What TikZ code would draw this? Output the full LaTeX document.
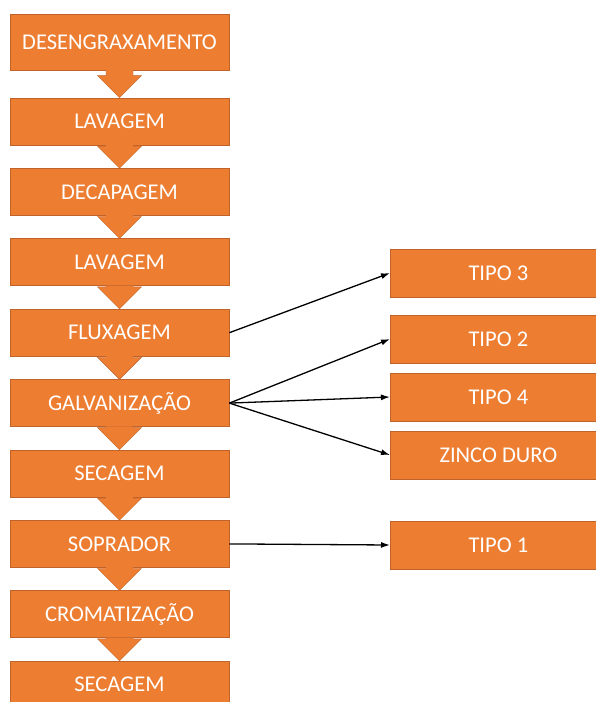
\documentclass[tikz,border=0pt]{standalone}
\usepackage{fontspec}
\setmainfont{Carlito}
\usepackage{xcolor}
\usepackage{tikz}
\usetikzlibrary{arrows.meta,positioning,calc}
\definecolor{mOrange}{HTML}{ED7D31}
\definecolor{mOrangeDark}{HTML}{C0632A}

\tikzset{
  stepbox/.style={draw=mOrangeDark, line width=0.7pt, fill=mOrange, text=white,
    minimum width=219pt, minimum height=47pt, inner sep=0pt, font=\fontsize{22.5}{27}\selectfont},
  typebox/.style={stepbox, minimum width=216pt, minimum height=48pt},
  link/.style={-{Latex[length=9pt,width=6pt]}, line width=1.3pt, black}
}
% block arrow between two stacked steps
\newcommand{\chevron}[2]{%
  \fill[mOrange] ($(#1.south)+(-13.5pt,0.6pt)$) -- ($(#2.north)+(-13.5pt,22pt)$)
    -- ($(#2.north)+(-22pt,22pt)$) -- (#2.north) -- ($(#2.north)+(22pt,22pt)$)
    -- ($(#2.north)+(13.5pt,22pt)$) -- ($(#1.south)+(13.5pt,0.6pt)$) -- cycle;
  \draw[mOrangeDark, line width=0.4pt, line join=miter] ($(#1.south)+(-13.5pt,0pt)$) -- ($(#2.north)+(-13.5pt,22pt)$)
    -- ($(#2.north)+(-22pt,22pt)$) -- (#2.north) -- ($(#2.north)+(22pt,22pt)$)
    -- ($(#2.north)+(13.5pt,22pt)$) -- ($(#1.south)+(13.5pt,0pt)$);}

\begin{document}
\begin{tikzpicture}[x=1pt, y=1pt, node distance=22.7pt]
  \useasboundingbox (0,0) rectangle (596,-702);

  % main line
  \node[stepbox, minimum height=56pt] (desen) at (119.5,-42) {DESENGRAXAMENTO};
  \node[stepbox, below=27.3pt of desen] (lav1) {LAVAGEM};
  \node[stepbox, below=of lav1] (decap) {DECAPAGEM};
  \node[stepbox, below=of decap] (lav2) {LAVAGEM};
  \node[stepbox, below=of lav2] (flux) {FLUXAGEM};
  \node[stepbox, below=of flux] (galv) {GALVANIZAÇÃO};
  \node[stepbox, below=of galv] (sec1) {SECAGEM};
  \node[stepbox, below=of sec1] (sopr) {SOPRADOR};
  \node[stepbox, below=of sopr] (crom) {CROMATIZAÇÃO};
  \node[stepbox, below=of crom] (sec2) {SECAGEM};

  \foreach \a/\b in {desen/lav1, lav1/decap, decap/lav2, lav2/flux, flux/galv,
                     galv/sec1, sec1/sopr, sopr/crom, crom/sec2}
    \chevron{\a}{\b};

  % types
  \node[typebox, anchor=west] (tipo3) at (390,-273) {TIPO 3};
  \node[typebox, below=17.3pt of tipo3] (tipo2) {TIPO 2};
  \node[typebox, below=9.3pt of tipo2] (tipo4) {TIPO 4};
  \node[typebox, below=9.3pt of tipo4] (zinco) {ZINCO DURO};
  \node[typebox, anchor=west] (tipo1) at (390,-545) {TIPO 1};

  \draw[link] (flux.east) -- (tipo3.west);
  \draw[link] (galv.east) -- (tipo2.west);
  \draw[link] (galv.east) -- (tipo4.west);
  \draw[link] (galv.east) -- (zinco.west);
  \draw[link] (sopr.east) -- (tipo1.west);
\end{tikzpicture}
\end{document}
